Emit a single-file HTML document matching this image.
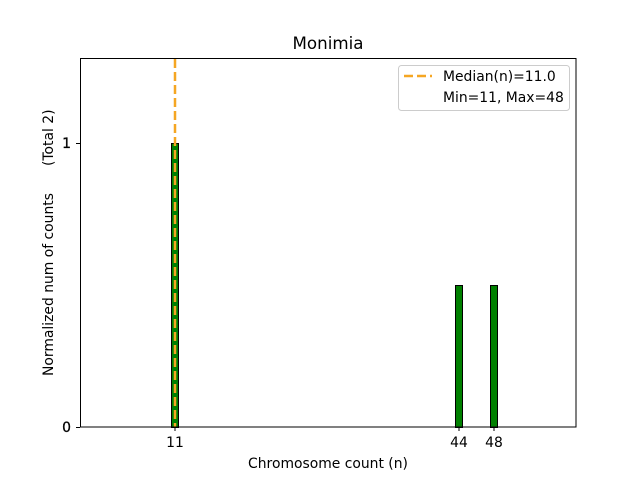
<!DOCTYPE html>
<html><head><style>body{margin:0;background:#fff}</style></head><body>
<svg width="640" height="480" xmlns="http://www.w3.org/2000/svg" font-family="DejaVu Sans, Liberation Sans, sans-serif">
<rect width="640" height="480" fill="#fff"/>
<g fill="#008000" stroke="#000" stroke-width="1">
<rect x="171.5" y="143.5" width="7" height="284"/>
<rect x="455.5" y="285.5" width="7" height="142"/>
<rect x="490.5" y="285.5" width="7" height="142"/>
</g>
<line x1="175" y1="59" x2="175" y2="427" stroke="#F5A623" stroke-width="2.5" stroke-dasharray="9,4"/>
<rect x="80.5" y="58.5" width="495.5" height="368.5" fill="none" stroke="#000" stroke-width="1"/>
<g stroke="#000"><line x1="76" y1="143.5" x2="80" y2="143.5"/><line x1="76" y1="427.5" x2="80" y2="427.5"/>
<line x1="175" y1="427" x2="175" y2="431"/><line x1="459" y1="427" x2="459" y2="431"/><line x1="494" y1="427" x2="494" y2="431"/></g>
<g font-size="13.9" fill="#000">
<text x="71" y="148" text-anchor="end" stroke="#000" stroke-width="0.3">1</text>
<text x="71" y="432" text-anchor="end" stroke="#000" stroke-width="0.3">0</text>
<text x="175" y="447" text-anchor="middle">11</text>
<text x="459" y="447" text-anchor="middle">44</text>
<text x="494" y="447" text-anchor="middle">48</text>
<text x="328" y="468" text-anchor="middle">Chromosome count (n)</text>
<text transform="translate(53,376) rotate(-90)">Normalized num of counts</text>
<text transform="translate(53,166) rotate(-90)">(Total 2)</text>
</g>
<text x="328" y="49" font-size="16.7" text-anchor="middle">Monimia</text>
<rect x="398.5" y="65.5" width="171" height="45" rx="3" fill="#fff" stroke="#ccc"/>
<line x1="404" y1="76" x2="432" y2="76" stroke="#F5A623" stroke-width="2.5" stroke-dasharray="9,4"/>
<g font-size="13.9"><text x="443" y="81">Median(n)=11.0</text><text x="443" y="102">Min=11, Max=48</text></g>
</svg>
</body></html>
